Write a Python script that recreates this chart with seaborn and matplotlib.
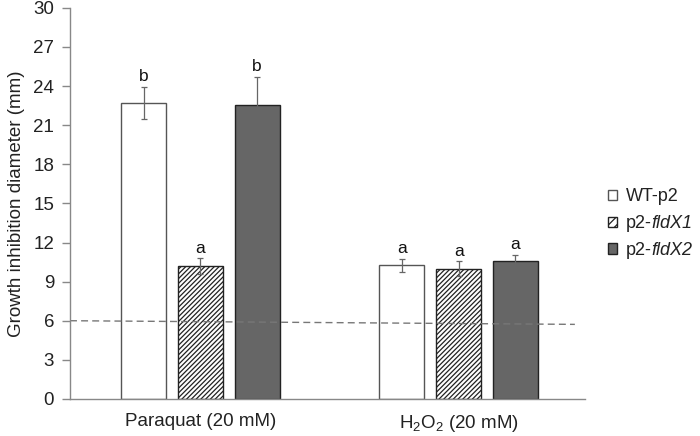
import matplotlib
matplotlib.use("Agg")
import matplotlib.pyplot as plt
import seaborn as sns
import pandas as pd
import numpy as np
from matplotlib.patches import Patch

treatments = ["Paraquat (20 mM)", "H$_2$O$_2$ (20 mM)"]
strains = ["WT-p2", "p2-fldX1", "p2-fldX2"]
label_upright = ["WT-p2", "p2-", "p2-"]
label_italic = ["", "fldX1", "fldX2"]
wt_vals = [22.7, 10.25]
fldx1_vals = [10.2, 10.0]
fldx2_vals = [22.55, 10.6]
wt_err = [1.25, 0.5]
fldx1_err = [0.6, 0.55]
fldx2_err = [2.15, 0.45]
letters_wt = ["b", "a"]
letters_fldx1 = ["a", "a"]
letters_fldx2 = ["b", "a"]
yticks = [0, 3, 6, 9, 12, 15, 18, 21, 24, 27, 30]
threshold = [6.0, 5.72]

sns.set_theme(style="white")
plt.rcParams["font.family"] = ["Liberation Sans", "DejaVu Sans"]
plt.rcParams["mathtext.fontset"] = "custom"
plt.rcParams["mathtext.rm"] = "Liberation Sans"
plt.rcParams["mathtext.it"] = "Liberation Sans:italic"
plt.rcParams["hatch.linewidth"] = 0.9

rows = []
for vals, errs, lets, s in [(wt_vals, wt_err, letters_wt, strains[0]),
                            (fldx1_vals, fldx1_err, letters_fldx1, strains[1]),
                            (fldx2_vals, fldx2_err, letters_fldx2, strains[2])]:
    for t, v, e, l in zip(treatments, vals, errs, lets):
        rows.append(dict(treatment=t, strain=s, value=v, err=e, letter=l))
df = pd.DataFrame(rows)

fig = plt.figure(figsize=(7, 4.36), dpi=100)
ax = fig.add_axes([0.1, 0.085, 0.736, 0.897])

face = {"WT-p2": "white", "p2-fldX1": "white", "p2-fldX2": "#666666"}
sns.barplot(data=df, x="treatment", y="value", hue="strain", order=treatments,
            hue_order=strains, palette=face, errorbar=None, width=0.66, gap=0.21,
            edgecolor="black", linewidth=1.0, ax=ax, legend=False)

edge = {"WT-p2": "#555555", "p2-fldX1": "#222222", "p2-fldX2": "#222222"}
hatch = {"WT-p2": "", "p2-fldX1": "///////", "p2-fldX2": ""}
for cont, s in zip(ax.containers, strains):
    sub = df[df.strain == s].set_index("treatment").loc[treatments]
    xs = []
    for bar in cont:
        bar.set_edgecolor(edge[s])
        bar.set_hatch(hatch[s])
        xs.append(bar.get_x() + bar.get_width() / 2)
    xs = np.array(xs)
    ax.errorbar(xs, sub["value"].values, yerr=sub["err"].values, fmt="none",
                ecolor="#666666", elinewidth=0.9, capsize=2.5, capthick=0.9, zorder=5)
    for x, v, e, l in zip(xs, sub["value"].values, sub["err"].values, sub["letter"].values):
        ax.text(x, v + e + 0.2, l, ha="center", va="bottom", fontsize=12.5, color="#111111")

ax.set_xlim(-0.505, 1.49)
ax.plot([-0.505, 1.45], threshold, ls=(0, (5, 3)), color="#777777", lw=1.0, zorder=1)

ax.set_ylim(0, 30)
ax.set_yticks(yticks)
ax.set_yticklabels([str(t) for t in yticks], fontsize=13.5, color="#222222")
ax.set_xlabel("")
ax.set_ylabel("Growth inhibition diameter (mm)", fontsize=13.5, color="#222222", labelpad=6)
ax.tick_params(axis="x", labelsize=13.5, length=0, pad=10, labelcolor="#222222")
ax.tick_params(axis="y", left=True, length=5.5, color="#888888", width=1, pad=6)
for sp in ["top", "right"]:
    ax.spines[sp].set_visible(False)
for sp in ["left", "bottom"]:
    ax.spines[sp].set_color("#888888")
    ax.spines[sp].set_linewidth(1.0)

handles = [Patch(facecolor="white", edgecolor="#555555", label=label_upright[0]),
           Patch(facecolor="white", edgecolor="#222222", hatch="////", label=label_upright[1]),
           Patch(facecolor="#666666", edgecolor="#222222", label=label_upright[2])]
leg = fig.legend(handles=handles, loc="upper left", bbox_to_anchor=(0.858, 0.585),
                 frameon=False, fontsize=13, handlelength=0.5, handleheight=0.5,
                 handletextpad=0.5, labelspacing=0.55, borderaxespad=0, labelcolor="#222222")

fig.canvas.draw()
renderer = fig.canvas.get_renderer()
inv = fig.transFigure.inverted()
for txt, it in zip(leg.get_texts(), label_italic):
    if not it:
        continue
    bb = txt.get_window_extent(renderer)
    x0, y0 = inv.transform((bb.x1, bb.y0))
    fig.text(x0, y0, it, fontsize=13, style="italic", color="#222222",
             ha="left", va="bottom")

fig.savefig("out.png", dpi=100)
